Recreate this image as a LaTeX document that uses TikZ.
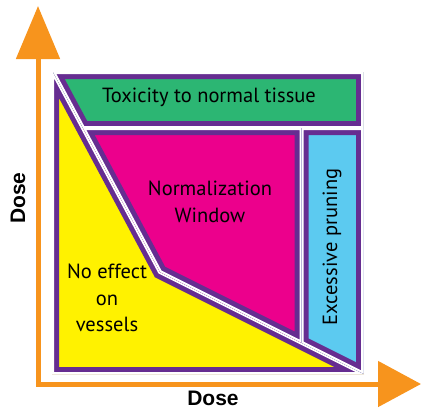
\documentclass[tikz,border=0pt]{standalone}
\usepackage{fontspec}
\setmainfont{PT Sans}
\newfontfamily\axisfont{Liberation Sans}
\definecolor{rimpurple}{RGB}{102, 45, 145}
\definecolor{toxgreen}{RGB}{44, 182, 115}
\definecolor{normmagenta}{RGB}{236, 0, 140}
\definecolor{noeffyellow}{RGB}{255, 242, 0}
\definecolor{prunblue}{RGB}{92, 202, 240}
\definecolor{axisorange}{RGB}{247, 148, 29}
\usetikzlibrary{arrows.meta}

% one coloured region: fill, purple rim inside, white gap at the border
\newcommand{\doseregion}[2]{%
  \begin{scope}
    \clip #2;
    \fill[#1] #2;
    \draw[rim] #2;
    \draw[gap] #2;
  \end{scope}}

\begin{document}
\begin{tikzpicture}[x=1pt, y=-1pt, line join=miter,
    rim/.style={draw=rimpurple, line width=14pt},
    gap/.style={draw=white, line width=4pt},
    zonelabel/.style={font=\fontsize{20.5}{26.5}\selectfont, align=center, text=black, inner sep=0pt},
    axislabel/.style={font=\axisfont\bfseries\fontsize{21}{24}\selectfont, text=black, inner sep=0pt}]
    \useasboundingbox (0,0) rectangle (422,410);

    % Borders of the zones
    \coordinate (A) at (53,72);     % top-left corner of the split line
    \coordinate (E) at (160,272);   % elbow of the split line
    \coordinate (B) at (364,374);   % bottom-right end of the split line
    \coordinate (TR) at (363,72);
    \coordinate (BL) at (52,374);
    \coordinate (G) at (83,128);    % split line meets green/magenta gap
    \coordinate (M) at (301.5,128);
    \coordinate (Mb) at (301.5,342.75);
    \coordinate (R) at (363,128);
    \coordinate (Rb) at (363,373.5);

    % Zones
    \doseregion{noeffyellow}{(52,72) -- (A) -- (E) -- (B) -- (BL) -- cycle}
    \doseregion{toxgreen}{(A) -- (TR) -- (R) -- (G) -- cycle}
    \doseregion{normmagenta}{(G) -- (M) -- (Mb) -- (E) -- cycle}
    \doseregion{prunblue}{(M) -- (R) -- (Rb) -- (Mb) -- cycle}

    % Axes
    \coordinate (O) at (38,384);
    \coordinate (ytip) at (38,6);
    \coordinate (xtip) at (421,384);
    \draw[axisorange, line width=5pt,
          {Triangle[length=53pt, width=43pt]}-{Triangle[length=43pt, width=45pt]}]
        (ytip) |- (xtip);

    % Labels
    \node[zonelabel] (tox) at (209,97) {Toxicity to normal tissue};
    \node[zonelabel] (norm) at (210,202) {Normalization\\Window};
    \node[zonelabel] (noeff) at (107,298) {No effect\\on\\vessels};
    \node[zonelabel, rotate=90] (prun) at (332,247) {Excessive pruning};
    \node[axislabel, rotate=90] (ydose) at (18,198) {Dose};
    \node[axislabel] (xdose) at (213,398) {Dose};
\end{tikzpicture}
\end{document}
